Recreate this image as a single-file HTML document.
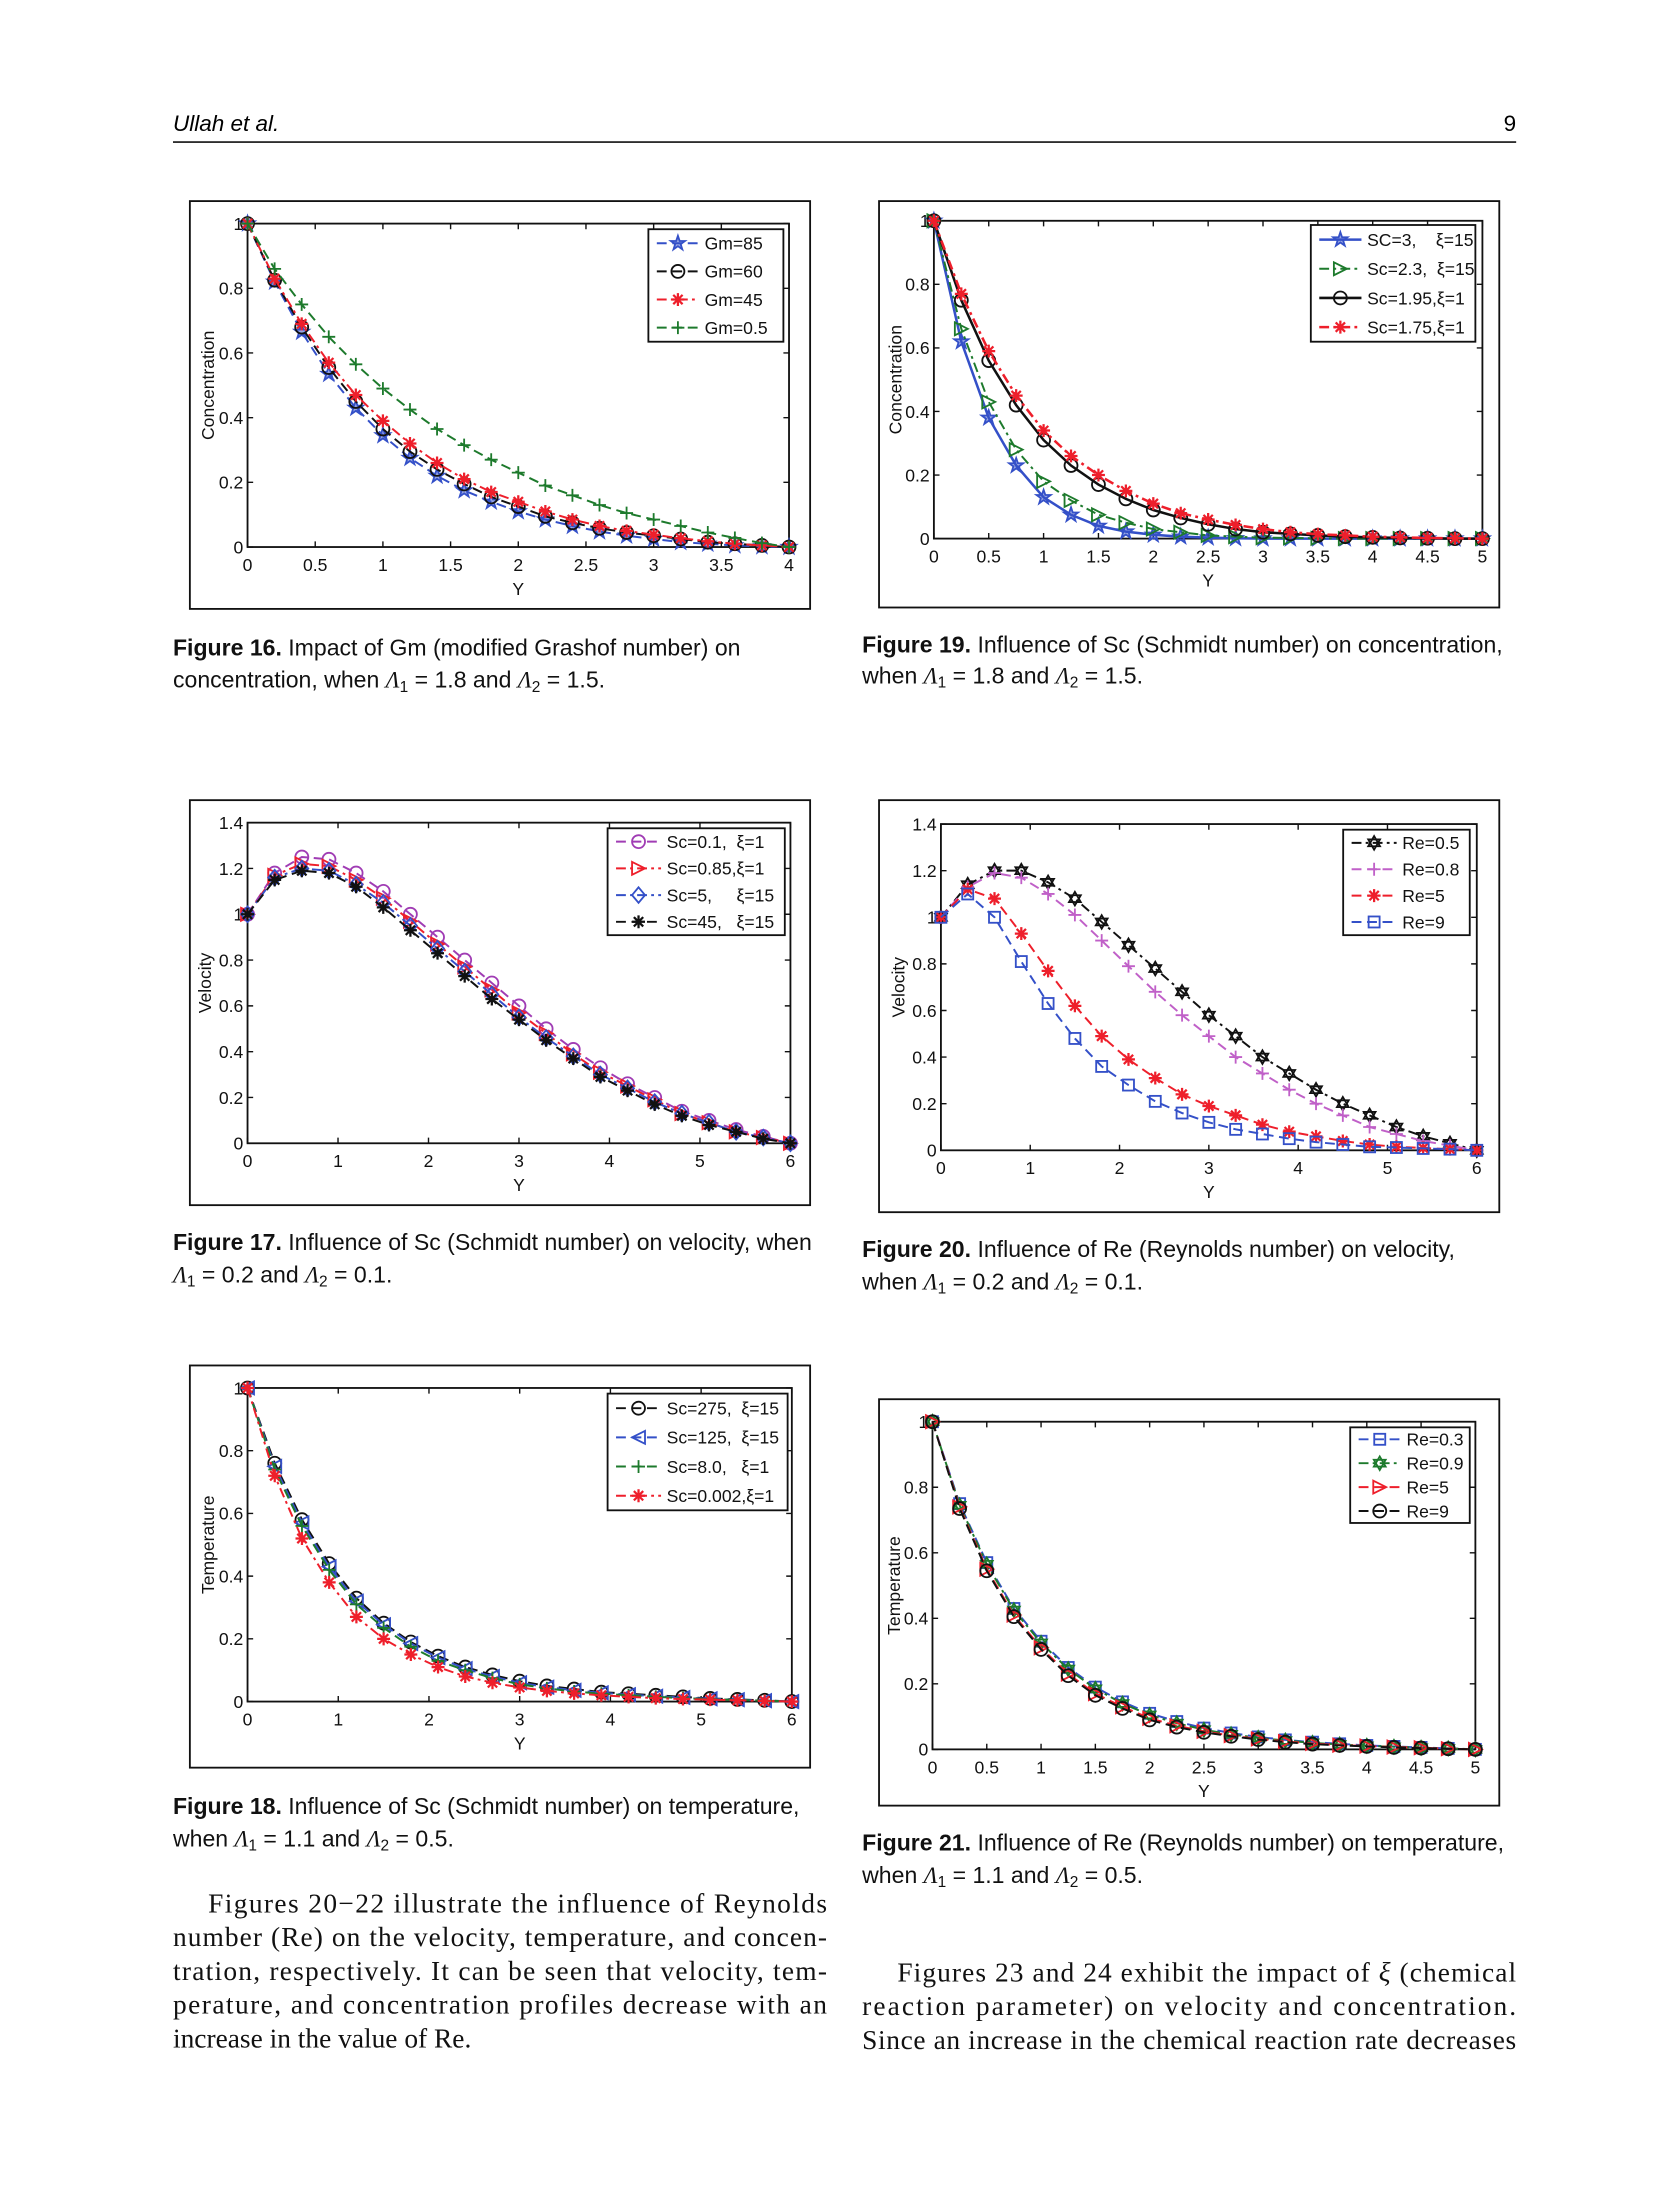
<!DOCTYPE html>
<html><head><meta charset="utf-8"><style>
html,body{margin:0;padding:0;background:#fff;}
svg{display:block;}
.tk{font-family:"Liberation Sans",sans-serif;font-size:12.5px;fill:#111;}
.cap{font-family:"Liberation Sans",sans-serif;font-size:16.4px;fill:#111;}
.body{font-family:"Liberation Serif",serif;font-size:19.5px;fill:#111;}
</style></head><body>
<svg id="page" width="1654" height="2205" viewBox="0 0 1176 1568" preserveAspectRatio="none" xmlns="http://www.w3.org/2000/svg">
<rect x="0" y="0" width="1176" height="1568" fill="#fff"/>
<text x="123" y="93" font-family="Liberation Sans, sans-serif" font-style="italic" font-size="16">Ullah et al.</text>
<text x="1078" y="93" text-anchor="end" font-family="Liberation Sans, sans-serif" font-size="16">9</text>
<line x1="123" y1="101" x2="1078" y2="101" stroke="#111" stroke-width="1.2"/>

<g class="cap">
<text x="123" y="466"><tspan font-weight="bold">Figure 16.</tspan>  Impact of Gm (modified Grashof number) on</text>
<text x="123" y="489">concentration, when <tspan font-family="Liberation Serif" font-style="italic">Λ</tspan><tspan font-size="11" dy="3">1</tspan><tspan dy="-3"> = 1.8 and </tspan><tspan font-family="Liberation Serif" font-style="italic">Λ</tspan><tspan font-size="11" dy="3">2</tspan><tspan dy="-3"> = 1.5.</tspan></text>
</g>
<g class="cap">
<text x="613" y="464"><tspan font-weight="bold">Figure 19.</tspan>  Influence of Sc (Schmidt number) on concentration,</text>
<text x="613" y="486">when <tspan font-family="Liberation Serif" font-style="italic">Λ</tspan><tspan font-size="11" dy="3">1</tspan><tspan dy="-3"> = 1.8 and </tspan><tspan font-family="Liberation Serif" font-style="italic">Λ</tspan><tspan font-size="11" dy="3">2</tspan><tspan dy="-3"> = 1.5.</tspan></text>
</g>
<g class="cap">
<text x="123" y="889"><tspan font-weight="bold">Figure 17.</tspan>  Influence of Sc (Schmidt number) on velocity, when</text>
<text x="123" y="912"><tspan font-family="Liberation Serif" font-style="italic">Λ</tspan><tspan font-size="11" dy="3">1</tspan><tspan dy="-3"> = 0.2 and </tspan><tspan font-family="Liberation Serif" font-style="italic">Λ</tspan><tspan font-size="11" dy="3">2</tspan><tspan dy="-3"> = 0.1.</tspan></text>
</g>
<g class="cap">
<text x="613" y="894"><tspan font-weight="bold">Figure 20.</tspan>  Influence of Re (Reynolds number) on velocity,</text>
<text x="613" y="917">when <tspan font-family="Liberation Serif" font-style="italic">Λ</tspan><tspan font-size="11" dy="3">1</tspan><tspan dy="-3"> = 0.2 and </tspan><tspan font-family="Liberation Serif" font-style="italic">Λ</tspan><tspan font-size="11" dy="3">2</tspan><tspan dy="-3"> = 0.1.</tspan></text>
</g>
<g class="cap">
<text x="123" y="1290"><tspan font-weight="bold">Figure 18.</tspan>  Influence of Sc (Schmidt number) on temperature,</text>
<text x="123" y="1313">when <tspan font-family="Liberation Serif" font-style="italic">Λ</tspan><tspan font-size="11" dy="3">1</tspan><tspan dy="-3"> = 1.1 and </tspan><tspan font-family="Liberation Serif" font-style="italic">Λ</tspan><tspan font-size="11" dy="3">2</tspan><tspan dy="-3"> = 0.5.</tspan></text>
</g>
<g class="cap">
<text x="613" y="1316"><tspan font-weight="bold">Figure 21.</tspan>  Influence of Re (Reynolds number) on temperature,</text>
<text x="613" y="1339">when <tspan font-family="Liberation Serif" font-style="italic">Λ</tspan><tspan font-size="11" dy="3">1</tspan><tspan dy="-3"> = 1.1 and </tspan><tspan font-family="Liberation Serif" font-style="italic">Λ</tspan><tspan font-size="11" dy="3">2</tspan><tspan dy="-3"> = 0.5.</tspan></text>
</g>

<g class="body">
<text x="148" y="1360" textLength="440" lengthAdjust="spacing">Figures 20−22 illustrate the influence of Reynolds</text>
<text x="123" y="1384" textLength="465" lengthAdjust="spacing">number (Re) on the velocity, temperature, and concen-</text>
<text x="123" y="1408" textLength="465" lengthAdjust="spacing">tration, respectively. It can be seen that velocity, tem-</text>
<text x="123" y="1432" textLength="465" lengthAdjust="spacing">perature, and concentration profiles decrease with an</text>
<text x="123" y="1456">increase in the value of Re.</text>
</g>
<g class="body">
<text x="638" y="1409" textLength="440" lengthAdjust="spacing">Figures 23 and 24 exhibit the impact of <tspan font-style="italic">ξ</tspan> (chemical</text>
<text x="613" y="1433" textLength="465" lengthAdjust="spacing">reaction parameter) on velocity and concentration.</text>
<text x="613" y="1457" textLength="465" lengthAdjust="spacing">Since an increase in the chemical reaction rate decreases</text>
</g>
</svg>
<script>
// ---------- Figure 16 data ----------
const f16X = [0,0.2,0.4,0.6,0.8,1,1.2,1.4,1.6,1.8,2,2.2,2.4,2.6,2.8,3,3.2,3.4,3.6,3.8,4];
const f16Gm85 = [1,.82,.665,.535,.43,.345,.275,.22,.175,.14,.11,.085,.065,.048,.035,.025,.015,.01,.005,.002,0];
const f16Gm60 = [1,.825,.68,.555,.45,.365,.295,.24,.195,.155,.125,.095,.075,.058,.045,.035,.025,.015,.01,.005,0];
const f16Gm45 = [1,.83,.69,.57,.47,.39,.32,.26,.21,.17,.14,.11,.085,.065,.05,.038,.027,.018,.01,.005,0];
const f16Gm05 = [1,.86,.75,.65,.565,.49,.425,.365,.315,.27,.23,.19,.16,.13,.105,.085,.065,.045,.028,.012,0];
const f16XTicks = [0,0.5,1,1.5,2,2.5,3,3.5,4];
const f16XTickLabels = ["0","0.5","1","1.5","2","2.5","3","3.5","4"];
const f16YTicks = [0,0.2,0.4,0.6,0.8,1];
const f16YTickLabels = ["0","0.2","0.4","0.6","0.8","1"];
const f16Names = ["Gm=85","Gm=60","Gm=45","Gm=0.5"];

// ---------- Figure 19 data ----------
const f19X = [0,0.25,0.5,0.75,1,1.25,1.5,1.75,2,2.25,2.5,2.75,3,3.25,3.5,3.75,4,4.25,4.5,4.75,5];
const f19Sc3 = [1,.62,.38,.23,.13,.075,.04,.022,.012,.006,.003,.001,0,0,0,0,0,0,0,0,0];
const f19Sc23 = [1,.66,.43,.28,.18,.12,.075,.05,.03,.02,.01,.006,.003,.002,.001,0,0,0,0,0,0];
const f19Sc195 = [1,.75,.56,.42,.31,.23,.17,.125,.09,.065,.045,.03,.02,.015,.01,.006,.004,.002,.001,0,0];
const f19Sc175 = [1,.77,.59,.45,.34,.26,.2,.15,.11,.08,.06,.043,.03,.02,.014,.01,.006,.004,.002,.001,0];
const f19XTicks = [0,0.5,1,1.5,2,2.5,3,3.5,4,4.5,5];
const f19XTickLabels = ["0","0.5","1","1.5","2","2.5","3","3.5","4","4.5","5"];
const f19YTicks = [0,0.2,0.4,0.6,0.8,1];
const f19YTickLabels = ["0","0.2","0.4","0.6","0.8","1"];
const f19Names = ["SC=3,    ξ=15","Sc=2.3,  ξ=15","Sc=1.95,ξ=1","Sc=1.75,ξ=1"];

// ---------- Figure 17 data ----------
const f17X = [0,0.3,0.6,0.9,1.2,1.5,1.8,2.1,2.4,2.7,3,3.3,3.6,3.9,4.2,4.5,4.8,5.1,5.4,5.7,6];
const f17Sc01 = [1,1.18,1.25,1.24,1.18,1.1,1.0,.9,.8,.7,.6,.5,.41,.33,.26,.2,.14,.1,.06,.03,0];
const f17Sc085 = [1,1.17,1.22,1.21,1.15,1.07,.97,.87,.77,.67,.57,.48,.39,.31,.25,.19,.13,.09,.05,.025,0];
const f17Sc5 = [1,1.16,1.2,1.19,1.13,1.05,.95,.85,.75,.65,.55,.46,.38,.3,.24,.18,.13,.09,.05,.025,0];
const f17Sc45 = [1,1.15,1.19,1.18,1.12,1.03,.93,.83,.73,.63,.54,.45,.37,.29,.23,.17,.12,.08,.05,.02,0];
const f17XTicks = [0,1,2,3,4,5,6];
const f17XTickLabels = ["0","1","2","3","4","5","6"];
const f17YTicks = [0,0.2,0.4,0.6,0.8,1,1.2,1.4];
const f17YTickLabels = ["0","0.2","0.4","0.6","0.8","1","1.2","1.4"];
const f17Names = ["Sc=0.1,  ξ=1","Sc=0.85,ξ=1","Sc=5,     ξ=15","Sc=45,   ξ=15"];

// ---------- Figure 20 data ----------
const f20X = [0,0.3,0.6,0.9,1.2,1.5,1.8,2.1,2.4,2.7,3,3.3,3.6,3.9,4.2,4.5,4.8,5.1,5.4,5.7,6];
const f20Re05 = [1,1.14,1.2,1.2,1.15,1.08,.98,.88,.78,.68,.58,.49,.4,.33,.26,.2,.15,.1,.06,.03,0];
const f20Re08 = [1,1.13,1.19,1.17,1.1,1.01,.9,.79,.68,.58,.49,.4,.33,.26,.2,.15,.1,.07,.04,.02,0];
const f20Re5 = [1,1.12,1.08,.93,.77,.62,.49,.39,.31,.24,.19,.15,.11,.08,.06,.04,.025,.015,.01,.005,0];
const f20Re9 = [1,1.1,1.0,.81,.63,.48,.36,.28,.21,.16,.12,.09,.07,.05,.035,.025,.015,.012,.008,.005,0];
const f20XTicks = [0,1,2,3,4,5,6];
const f20XTickLabels = ["0","1","2","3","4","5","6"];
const f20YTicks = [0,0.2,0.4,0.6,0.8,1,1.2,1.4];
const f20YTickLabels = ["0","0.2","0.4","0.6","0.8","1","1.2","1.4"];
const f20Names = ["Re=0.5","Re=0.8","Re=5","Re=9"];

// ---------- Figure 18 data ----------
const f18X = [0,0.3,0.6,0.9,1.2,1.5,1.8,2.1,2.4,2.7,3,3.3,3.6,3.9,4.2,4.5,4.8,5.1,5.4,5.7,6];
const f18Sc275 = [1,.76,.58,.44,.33,.25,.19,.145,.11,.085,.065,.05,.04,.03,.025,.02,.015,.01,.007,.004,0];
const f18Sc125 = [1,.75,.57,.43,.32,.245,.185,.14,.105,.08,.06,.046,.036,.028,.022,.017,.013,.009,.006,.003,0];
const f18Sc8 = [1,.74,.56,.42,.31,.235,.175,.13,.1,.075,.055,.042,.032,.025,.02,.015,.011,.008,.005,.003,0];
const f18Sc0002 = [1,.72,.52,.38,.27,.2,.15,.11,.08,.06,.045,.034,.026,.02,.015,.011,.008,.006,.004,.002,0];
const f18XTicks = [0,1,2,3,4,5,6];
const f18XTickLabels = ["0","1","2","3","4","5","6"];
const f18YTicks = [0,0.2,0.4,0.6,0.8,1];
const f18YTickLabels = ["0","0.2","0.4","0.6","0.8","1"];
const f18Names = ["Sc=275,  ξ=15","Sc=125,  ξ=15","Sc=8.0,   ξ=1","Sc=0.002,ξ=1"];

// ---------- Figure 21 data ----------
const f21X = [0,0.25,0.5,0.75,1,1.25,1.5,1.75,2,2.25,2.5,2.75,3,3.25,3.5,3.75,4,4.25,4.5,4.75,5];
const f21Re03 = [1,.75,.57,.43,.33,.25,.19,.145,.11,.085,.065,.05,.038,.029,.022,.017,.012,.009,.006,.003,0];
const f21Re09 = [1,.745,.565,.425,.325,.245,.185,.14,.105,.08,.06,.046,.035,.027,.02,.015,.011,.008,.005,.003,0];
const f21Re5 = [1,.74,.55,.41,.31,.23,.17,.13,.095,.072,.055,.042,.032,.024,.018,.013,.01,.007,.005,.002,0];
const f21Re9 = [1,.735,.545,.405,.305,.225,.165,.125,.09,.068,.052,.04,.03,.022,.016,.012,.009,.006,.004,.002,0];
const f21XTicks = [0,0.5,1,1.5,2,2.5,3,3.5,4,4.5,5];
const f21XTickLabels = ["0","0.5","1","1.5","2","2.5","3","3.5","4","4.5","5"];
const f21YTicks = [0,0.2,0.4,0.6,0.8,1];
const f21YTickLabels = ["0","0.2","0.4","0.6","0.8","1"];
const f21Names = ["Re=0.3","Re=0.9","Re=5","Re=9"];

const NS = "http://www.w3.org/2000/svg";
const page = document.getElementById('page');
const BLUE="#3450c8", RED="#ee1f2b", GREEN="#1d7a2c", BLACK="#111", PURPLE="#a03cb4", MAG="#c060c8";
const DASH="7 4", DASHDOT="7 3 2 3", SOLID="";

function el(tag, attrs, parent){
  const e=document.createElementNS(NS,tag);
  for(const k in attrs) e.setAttribute(k,attrs[k]);
  parent.appendChild(e); return e;
}
function marker(g,type,x,y,c){
  const s=4.6; let m;
  const st={stroke:c,'stroke-width':1.3,fill:'none'};
  if(type==='circle'){ m=el('circle',Object.assign({cx:x,cy:y,r:s},st),g); }
  else if(type==='square'){ m=el('rect',Object.assign({x:x-s*0.85,y:y-s*0.85,width:s*1.7,height:s*1.7},st),g); }
  else if(type==='diamond'){ m=el('polygon',Object.assign({points:`${x},${y-s*1.2} ${x+s},${y} ${x},${y+s*1.2} ${x-s},${y}`},st),g); }
  else if(type==='triR'){ m=el('polygon',Object.assign({points:`${x-s},${y-s} ${x+s},${y} ${x-s},${y+s}`},st),g); }
  else if(type==='triL'){ m=el('polygon',Object.assign({points:`${x+s},${y-s} ${x-s},${y} ${x+s},${y+s}`},st),g); }
  else if(type==='plus'){ m=el('path',Object.assign({d:`M${x-s} ${y}H${x+s}M${x} ${y-s}V${y+s}`},st),g); }
  else if(type==='aster'){ const d=s*0.72; m=el('path',Object.assign({d:`M${x-s} ${y}H${x+s}M${x} ${y-s}V${y+s}M${x-d} ${y-d}L${x+d} ${y+d}M${x-d} ${y+d}L${x+d} ${y-d}`},st),g); m.setAttribute('stroke-width','1.6'); }
  else if(type==='star'){ let p=[]; for(let i=0;i<10;i++){const r=i%2?s*0.45:s*1.15; const a=-Math.PI/2+i*Math.PI/5; p.push((x+r*Math.cos(a)).toFixed(2)+','+(y+r*Math.sin(a)).toFixed(2));} m=el('polygon',Object.assign({points:p.join(' ')},st),g); m.setAttribute('fill',c); m.setAttribute('fill-opacity','0.5'); }
  else if(type==='hex'){ const r=s*1.05; const t1=[],t2=[]; for(let i=0;i<3;i++){const a=-Math.PI/2+i*2*Math.PI/3; t1.push((x+r*Math.cos(a))+','+(y+r*Math.sin(a))); const b=Math.PI/2+i*2*Math.PI/3; t2.push((x+r*Math.cos(b))+','+(y+r*Math.sin(b)));}
    m=el('g',{},g); el('polygon',Object.assign({points:t1.join(' ')},st),m); el('polygon',Object.assign({points:t2.join(' ')},st),m); }
  
  
}

function chart(cfg){
  const g=el('g',{},page);
  
  
  const [bx0,by0,bx1,by1]=cfg.box;
  const frame=el('rect',{x:bx0,y:by0,width:bx1-bx0,height:by1-by0,fill:'#fff',stroke:'#111','stroke-width':1.3},g);
  
  
  const [px0,py0,px1,py1]=cfg.plot;
  const [xmin,xmax]=cfg.xr, [ymin,ymax]=cfg.yr;
  const sx=v=>px0+(v-xmin)/(xmax-xmin)*(px1-px0);
  const sy=v=>py1-(v-ymin)/(ymax-ymin)*(py1-py0);
  const axes=el('rect',{x:px0,y:py0,width:px1-px0,height:py1-py0,fill:'none',stroke:'#111','stroke-width':1.3},g);
  
  
  cfg.xticks.forEach((t,i)=>{
    const x=sx(t);
    el('path',{d:`M${x} ${py1}v-4M${x} ${py0}v4`,stroke:'#111','stroke-width':1},g);
    const tx=el('text',{x:x,y:py1+17,'text-anchor':'middle',class:'tk'},g);
    tx.textContent=cfg.xlabels[i];
    
    
  });
  cfg.yticks.forEach((t,i)=>{
    const y=sy(t);
    el('path',{d:`M${px0} ${y}h4M${px1} ${y}h-4`,stroke:'#111','stroke-width':1},g);
    const ty=el('text',{x:px0-3,y:y+4.5,'text-anchor':'end',class:'tk'},g);
    ty.textContent=cfg.ylabels[i];
    
    
  });
  const xt=el('text',{x:(px0+px1)/2,y:py1+34,'text-anchor':'middle',class:'tk'},g);
  xt.textContent='Y';
  
  
  const ycx=cfg.ytx, ycy=(py0+py1)/2;
  const yt=el('text',{x:ycx,y:ycy,'text-anchor':'middle',class:'tk',transform:`rotate(-90 ${ycx} ${ycy})`},g);
  yt.textContent=cfg.ytitle;
  
  
  cfg.series.forEach((s,si)=>{
    const sg=el('g',{},g);
    
    
    const pts=s.ys.map((v,i)=>sx(s.xs[i]).toFixed(2)+','+sy(v).toFixed(2)).join(' ');
    const ln=el('polyline',{points:pts,fill:'none',stroke:s.c,'stroke-width':s.w||1.4,'stroke-dasharray':s.d},sg);
    
    
    s.ys.forEach((v,i)=>marker(sg,s.m,sx(s.xs[i]),sy(v),s.c));
  });
  const [lx0,ly0,lx1,ly1]=cfg.legend;
  const lg=el('g',{},g);
  
  
  el('rect',{x:lx0,y:ly0,width:lx1-lx0,height:ly1-ly0,fill:'#fff',stroke:'#111','stroke-width':1.3},lg);
  const rh=(ly1-ly0)/cfg.series.length;
  cfg.series.forEach((s,i)=>{
    const eg=el('g',{},lg);
    
    
    const y=ly0+rh*(i+0.5);
    el('line',{x1:lx0+6,y1:y,x2:lx0+cfg.lw,y2:y,stroke:s.c,'stroke-width':s.w||1.4,'stroke-dasharray':s.d},eg);
    marker(eg,s.m,lx0+6+(cfg.lw-6)/2,y,s.c);
    const t=el('text',{x:lx0+cfg.lw+4,y:y+4.5,class:'tk','font-size':'12.5'},eg);
    t.textContent=cfg.names[i];
    t.style.whiteSpace='pre';
    t.setAttribute('xml:space','preserve');
  });
}

chart({name:'figure-16-concentration-gm',box:[135,143,576,433],plot:[176,159,561,389],xr:[0,4],yr:[0,1],
  xticks:f16XTicks,xlabels:f16XTickLabels,yticks:f16YTicks,ylabels:f16YTickLabels,ytitle:'Concentration',ytx:152,
  legend:[461,163,557,243],lw:36,names:f16Names,
  series:[{key:'gm-85',xs:f16X,ys:f16Gm85,c:BLUE,d:DASH,m:'star'},{key:'gm-60',xs:f16X,ys:f16Gm60,c:BLACK,d:DASH,m:'circle'},
          {key:'gm-45',xs:f16X,ys:f16Gm45,c:RED,d:DASHDOT,m:'aster'},{key:'gm-0.5',xs:f16X,ys:f16Gm05,c:GREEN,d:DASH,m:'plus'}]});
chart({name:'figure-19-concentration-sc',box:[625,143,1066,432],plot:[664,157,1054,383],xr:[0,5],yr:[0,1],
  xticks:f19XTicks,xlabels:f19XTickLabels,yticks:f19YTicks,ylabels:f19YTickLabels,ytitle:'Concentration',ytx:641,
  legend:[932,160,1049,243],lw:36,names:f19Names,
  series:[{key:'sc-3',xs:f19X,ys:f19Sc3,c:BLUE,d:SOLID,m:'star',w:1.8},{key:'sc-2.3',xs:f19X,ys:f19Sc23,c:GREEN,d:DASHDOT,m:'triR'},
          {key:'sc-1.95',xs:f19X,ys:f19Sc195,c:BLACK,d:SOLID,m:'circle',w:1.8},{key:'sc-1.75',xs:f19X,ys:f19Sc175,c:RED,d:DASHDOT,m:'aster',w:1.8}]});
chart({name:'figure-17-velocity-sc',box:[135,569,576,857],plot:[176,585,562,813],xr:[0,6],yr:[0,1.4],
  xticks:f17XTicks,xlabels:f17XTickLabels,yticks:f17YTicks,ylabels:f17YTickLabels,ytitle:'Velocity',ytx:150,
  legend:[432,589,558,665],lw:38,names:f17Names,
  series:[{key:'sc-0.1',xs:f17X,ys:f17Sc01,c:PURPLE,d:DASH,m:'circle'},{key:'sc-0.85',xs:f17X,ys:f17Sc085,c:RED,d:DASHDOT,m:'triR'},
          {key:'sc-5',xs:f17X,ys:f17Sc5,c:BLUE,d:DASHDOT,m:'diamond'},{key:'sc-45',xs:f17X,ys:f17Sc45,c:BLACK,d:DASH,m:'aster'}]});
chart({name:'figure-20-velocity-re',box:[625,569,1066,862],plot:[669,586,1050,818],xr:[0,6],yr:[0,1.4],
  xticks:f20XTicks,xlabels:f20XTickLabels,yticks:f20YTicks,ylabels:f20YTickLabels,ytitle:'Velocity',ytx:643,
  legend:[955,590,1045,665],lw:38,names:f20Names,
  series:[{key:'re-0.5',xs:f20X,ys:f20Re05,c:BLACK,d:DASHDOT,m:'hex'},{key:'re-0.8',xs:f20X,ys:f20Re08,c:MAG,d:DASH,m:'plus'},
          {key:'re-5',xs:f20X,ys:f20Re5,c:RED,d:DASH,m:'aster'},{key:'re-9',xs:f20X,ys:f20Re9,c:BLUE,d:DASH,m:'square'}]});
chart({name:'figure-18-temperature-sc',box:[135,971,576,1257],plot:[176,987,563,1210],xr:[0,6],yr:[0,1],
  xticks:f18XTicks,xlabels:f18XTickLabels,yticks:f18YTicks,ylabels:f18YTickLabels,ytitle:'Temperature',ytx:152,
  legend:[432,991,560,1074],lw:38,names:f18Names,
  series:[{key:'sc-275',xs:f18X,ys:f18Sc275,c:BLACK,d:DASH,m:'circle'},{key:'sc-125',xs:f18X,ys:f18Sc125,c:BLUE,d:DASH,m:'triL'},
          {key:'sc-8.0',xs:f18X,ys:f18Sc8,c:GREEN,d:DASH,m:'plus'},{key:'sc-0.002',xs:f18X,ys:f18Sc0002,c:RED,d:DASHDOT,m:'aster'}]});
chart({name:'figure-21-temperature-re',box:[625,995,1066,1284],plot:[663,1011,1049,1244],xr:[0,5],yr:[0,1],
  xticks:f21XTicks,xlabels:f21XTickLabels,yticks:f21YTicks,ylabels:f21YTickLabels,ytitle:'Temperature',ytx:640,
  legend:[960,1015,1045,1083],lw:36,names:f21Names,
  series:[{key:'re-0.3',xs:f21X,ys:f21Re03,c:BLUE,d:DASH,m:'square'},{key:'re-0.9',xs:f21X,ys:f21Re09,c:GREEN,d:DASHDOT,m:'hex'},
          {key:'re-5',xs:f21X,ys:f21Re5,c:RED,d:DASH,m:'triR'},{key:'re-9',xs:f21X,ys:f21Re9,c:BLACK,d:DASH,m:'circle'}]});
</script>
</body></html>
